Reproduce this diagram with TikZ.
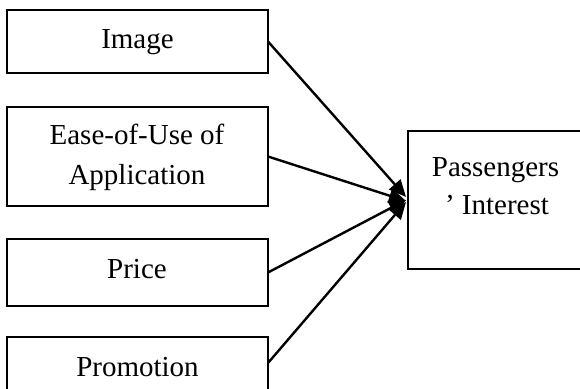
\documentclass[tikz,border=0pt]{standalone}
\usepackage{fontspec}
\setmainfont{Liberation Serif}
\usetikzlibrary{arrows.meta}
\begin{document}
\begin{tikzpicture}[x=1pt,y=-1pt,
  box/.style={draw,line width=1.8pt,rectangle,inner sep=0pt,outer sep=0pt},
  lbl/.style={anchor=base,inner sep=0pt,font=\fontsize{29}{38}\selectfont,align=center},
  conn/.style={line width=2.4pt,-{Triangle[length=17pt,width=15pt]}}]
\useasboundingbox (0,0) rectangle (580,388);
\node[box,minimum width=261pt,minimum height=63pt] (img) at (137.5,41.5) {};
\node[box,minimum width=261pt,minimum height=99pt] (ease) at (137.5,156.5) {};
\node[box,minimum width=261pt,minimum height=67pt] (price) at (137.5,272.5) {};
\node[box,minimum width=261pt,minimum height=63pt] (promo) at (137.5,368.5) {};
\node[box,minimum width=176pt,minimum height=138pt] (pi) at (496,200) {};
\node[lbl] (timg) at (137.5,48) {Image};
\node[lbl] (tease1) at (137,144) {Ease-of-Use of};
\node[lbl] (tease2) at (137,184) {Application};
\node[lbl] (tprice) at (137,278) {Price};
\node[lbl] (tpromo) at (137.5,376) {Promotion};
\node[lbl] (tpi1) at (495.5,176) {Passengers};
\node[lbl] (tpi2) at (497,214) {’ Interest};
\coordinate (t1) at (406,197);
\coordinate (t2) at (406,201);
\coordinate (t3) at (406,200);
\coordinate (t4) at (406,202);
\draw[conn] (img.east) -- (t1);
\draw[conn] (ease.east) -- (t2);
\draw[conn] (price.east) -- (t3);
\draw[conn] ([yshift=5.5pt]promo.east) -- (t4);
\end{tikzpicture}
\end{document}
